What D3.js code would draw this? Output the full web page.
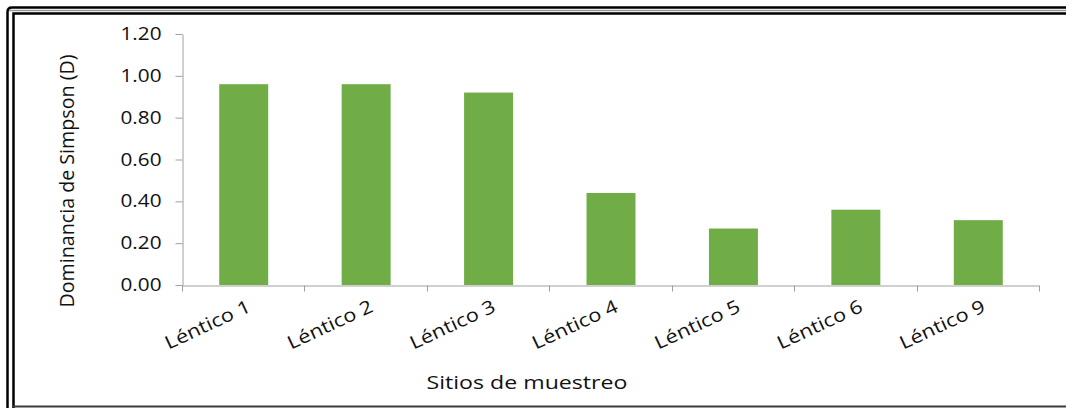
<!DOCTYPE html>
<html>
<head>
<meta charset="utf-8">
<script src="https://cdn.jsdelivr.net/npm/d3@7"></script>
<style>
  html, body { margin: 0; padding: 0; background: #fff; }
  svg { display: block; }
  text { font-family: "Open Sans", "Noto Sans", sans-serif; fill: #111; }
</style>
</head>
<body>
<svg id="chart" width="1066" height="408"></svg>
<script>
// Simpson dominance index per sampling site
const sites = ["Léntico 1", "Léntico 2", "Léntico 3", "Léntico 4", "Léntico 5", "Léntico 6", "Léntico 9"];
const dominance = [0.96, 0.96, 0.92, 0.44, 0.27, 0.36, 0.31];
const yTicks = [0, 0.2, 0.4, 0.6, 0.8, 1.0, 1.2];
const yTitle = "Dominancia de Simpson (D)";
const xTitle = "Sitios de muestreo";

const svg = d3.select("#chart");
const W = 1066, H = 408;

// Stretch text along its own baseline to a target length
function fitTo(sel, len) {
  sel.attr("textLength", len).attr("lengthAdjust", "spacingAndGlyphs");
}
function widen(sel, k) {
  sel.each(function () {
    const n = this.getComputedTextLength();
    d3.select(this).attr("textLength", n * k).attr("lengthAdjust", "spacingAndGlyphs");
  });
}

// Double frame around the chart
svg.append("path")
  .attr("d", `M7.5,${H} L7.5,12 Q7.5,7.5 12,7.5 L${W + 5},7.5`)
  .attr("fill", "none").attr("stroke", "#000").attr("stroke-width", 2.5);
svg.append("line")
  .attr("x1", 9).attr("x2", W).attr("y1", 10.5).attr("y2", 10.5)
  .attr("stroke", "#999").attr("stroke-width", 1.5);
svg.append("path")
  .attr("d", `M13.5,${H} L13.5,13.5 L${W + 5},13.5`)
  .attr("fill", "none").attr("stroke", "#000").attr("stroke-width", 2.5);
svg.append("line")
  .attr("x1", 12.5).attr("x2", W).attr("y1", 406.5).attr("y2", 406.5)
  .attr("stroke", "#3a3a3a").attr("stroke-width", 2);

const plotLeft = 182, plotRight = 1039, plotTop = 34, plotBottom = 285;

const y = d3.scaleLinear().domain([0, 1.2]).range([plotBottom, plotTop]);
const x = d3.scaleBand().domain(sites).range([plotLeft, plotRight]).paddingInner(0).paddingOuter(0);
const axisColor = "#a0a0a0";

// Y axis
const yAxis = svg.append("g")
  .attr("transform", `translate(${plotLeft + 0.5},0)`)
  .call(d3.axisLeft(y).tickValues(yTicks).tickFormat(d3.format(".2f")).tickSizeInner(7).tickSizeOuter(0).tickPadding(14));
yAxis.select(".domain").attr("stroke", axisColor);
yAxis.selectAll(".tick line").attr("stroke", axisColor);
yAxis.selectAll(".tick text")
  .attr("font-size", 17.5).attr("fill", "#111")
  .style("font-family", "'Open Sans', sans-serif")
  .call(fitTo, 41);

// Bars: width is band / 2.5 (150% gap)
const barW = x.bandwidth() / 2.5;
svg.append("g").selectAll("rect")
  .data(sites)
  .join("rect")
  .attr("x", d => x(d) + (x.bandwidth() - barW) / 2 + 0.5)
  .attr("width", barW)
  .attr("y", (d, i) => y(dominance[i]))
  .attr("height", (d, i) => y(0) - y(dominance[i]))
  .attr("fill", "#70ad47");

// X axis: baseline with tick marks at category boundaries
const xAxis = svg.append("g")
  .attr("transform", `translate(0,${plotBottom + 0.5})`)
  .call(d3.axisBottom(x).tickSize(0).tickFormat(""));
xAxis.select(".domain").attr("stroke", axisColor);
xAxis.selectAll(".tick").remove();
const bounds = sites.map(s => x(s)).concat([x.range()[1]]);
xAxis.selectAll("line.bound")
  .data(bounds)
  .join("line")
  .attr("class", "bound")
  .attr("x1", d => Math.round(d) + 0.5).attr("x2", d => Math.round(d) + 0.5)
  .attr("y1", 0).attr("y2", 6)
  .attr("stroke", axisColor);

// Rotated category labels
svg.append("g").selectAll("text")
  .data(sites)
  .join("text")
  .attr("transform", d => `translate(${x(d) + x.bandwidth() / 2 + 6},${plotBottom + 20}) rotate(-25)`)
  .attr("text-anchor", "end")
  .attr("dy", "0.35em")
  .attr("font-size", 18.5)
  .text(d => d)
  .call(fitTo, 92);

// Axis titles
svg.append("text")
  .attr("x", 527).attr("y", 389)
  .attr("text-anchor", "middle")
  .attr("font-size", 19)
  .text(xTitle)
  .call(fitTo, 201);

svg.append("text")
  .attr("transform", "translate(74,181) rotate(-90)")
  .attr("text-anchor", "middle")
  .attr("font-size", 19.5)
  .text(yTitle)
  .call(fitTo, 253);
</script>
</body>
</html>
